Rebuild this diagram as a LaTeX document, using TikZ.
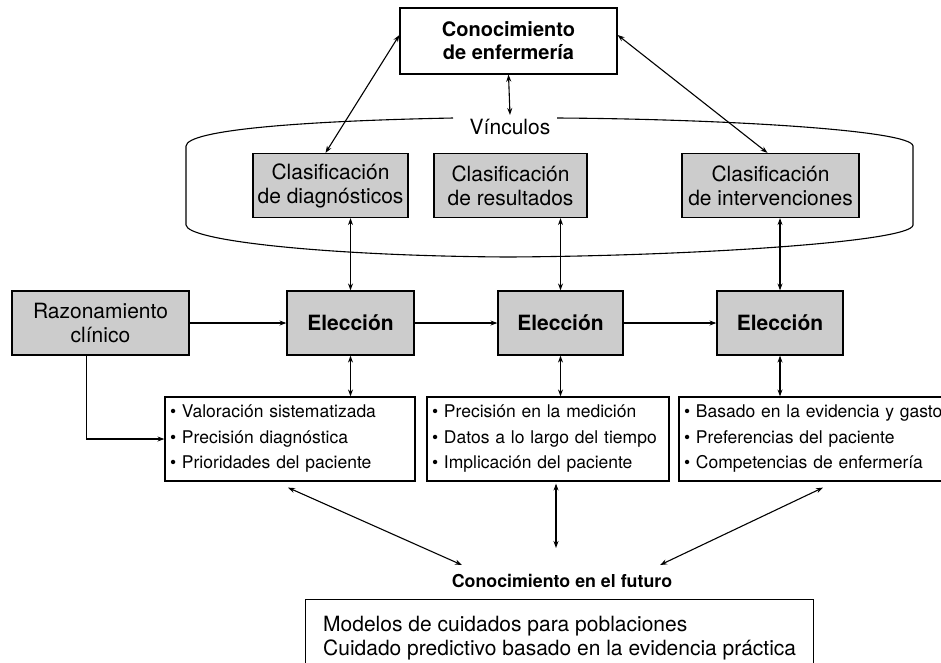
\documentclass[tikz,border=0pt]{standalone}
\usepackage{fontspec}
\setmainfont{TeX Gyre Heros}
\usetikzlibrary{arrows.meta,calc}
\begin{document}
\begin{tikzpicture}[x=1pt,y=-1pt,
  ln/.style={line width=1.1pt},
  arr/.style={ln,-{Stealth[length=7pt,width=5pt]}},
  darr/.style={ln,{Stealth[length=7pt,width=5pt]}-{Stealth[length=7pt,width=5pt]}},
  whitebox/.style={draw,line width=1.2pt,fill=white,inner sep=0pt,align=center},
  graybox/.style={draw,line width=1.2pt,fill=black!20,inner sep=0pt,align=center,
     font=\fontsize{21}{24}\selectfont},
  elecbox/.style={graybox,font=\bfseries\fontsize{21}{24}\selectfont},
  bulletbox/.style={draw,line width=1.2pt,fill=white,inner xsep=5pt,inner ysep=0pt,
     minimum height=84pt,align=left,font=\fontsize{17.5}{25.5}\selectfont}
]
\useasboundingbox (0,0) rectangle (941,662);
\clip (0,0) rectangle (941,662);
\fill[white] (0,0) rectangle (941,662);

% top knowledge box
\node[whitebox,minimum width=217pt,minimum height=66pt,font=\bfseries\fontsize{20}{23}\selectfont] (know) at (508.5,41) {Conocimiento\\de enfermería};
\node[font=\fontsize{21}{24}\selectfont,inner sep=0pt] (vinc) at (510,127) {Vínculos};

% enclosing shape
\draw[line width=1.1pt] (453,118) .. controls (300,121) and (187,130) .. (186,146)
  -- (186,225) .. controls (187,241) and (330,256) .. (508,257)
  .. controls (690,256) and (912,242) .. (913,225)
  -- (913,146) .. controls (912,130) and (720,119) .. (557,118);

% classification boxes
\node[graybox,minimum width=155pt,minimum height=64pt] (cd) at (330.5,185.5) {Clasificación\\de diagnósticos};
\node[graybox,minimum width=153pt,minimum height=64pt] (cr) at (510.5,185.5) {Clasificación\\de resultados};
\node[graybox,minimum width=177pt,minimum height=64pt] (ci) at (770.5,185.5) {Clasificación\\de intervenciones};

% choice row
\node[graybox,minimum width=177pt,minimum height=64pt] (raz) at (100.5,323) {Razonamiento\\clínico};
\node[elecbox,minimum width=127pt,minimum height=64pt] (e1) at (350.5,323) {Elección};
\node[elecbox,minimum width=125pt,minimum height=64pt] (e2) at (560.5,323) {Elección};
\node[elecbox,minimum width=126pt,minimum height=64pt] (e3) at (780,323) {Elección};

% bullet boxes
\node[bulletbox,text width=240pt] (b1) at (290,439) {• Valoración sistematizada\\• Precisión diagnóstica\\• Prioridades del paciente};
\node[bulletbox,text width=232pt] (b2) at (548,439) {• Precisión en la medición\\• Datos a lo largo del tiempo\\• Implicación del paciente};
\node[bulletbox,text width=262pt] (b3) at (815,439) {• Basado en la evidencia y gasto\\• Preferencias del paciente\\• Competencias de enfermería};

% future
\node[font=\bfseries\fontsize{17.8}{21}\selectfont,inner sep=1pt] (fut) at (562,581) {Conocimiento en el futuro};
\coordinate (fl) at (462,565);
\coordinate (fm) at (556,548);
\coordinate (fr) at (660,565);

\node[draw,line width=1.2pt,anchor=north west,minimum width=508pt,minimum height=110pt,inner sep=0pt] (bot) at (305,599) {};
\node[anchor=north west,align=left,inner sep=0pt,font=\fontsize{21}{24}\selectfont] (bottxt) at ([xshift=18pt,yshift=-17pt]bot.north west) {Modelos de cuidados para poblaciones\\Cuidado predictivo basado en la evidencia práctica};

% connectors
\draw[darr] (know.south) -- ([yshift=4pt]vinc.north);
\draw[darr] ([yshift=6pt]know.west) -- ([xshift=-5pt]cd.north);
\draw[darr] ([yshift=6pt]know.east) -- ([xshift=-3pt]ci.north);

\draw[darr] (e1.north) -- (e1.north |- cd.south);
\draw[darr] (e2.north) -- (e2.north |- cr.south);
\draw[darr] (e3.north) -- (e3.north |- ci.south);

\draw[arr] (raz.east) -- (e1.west);
\draw[arr] (e1.east) -- (e2.west);
\draw[arr] (e2.east) -- (e3.west);

\draw[darr] (e1.south) -- (e1.south |- b1.north);
\draw[darr] (e2.south) -- (e2.south |- b2.north);
\draw[darr] (e3.south) -- (e3.south |- b3.north);

\draw[arr] ([xshift=-14pt]raz.south) |- (b1.west);

\draw[darr] ([shift={(-2pt,-6pt)}]b1.south) -- (fl);
\draw[darr] ([shift={(8pt,-2pt)}]b2.south) -- (fm);
\draw[darr] ([shift={(8pt,-6pt)}]b3.south) -- (fr);
\end{tikzpicture}
\end{document}
